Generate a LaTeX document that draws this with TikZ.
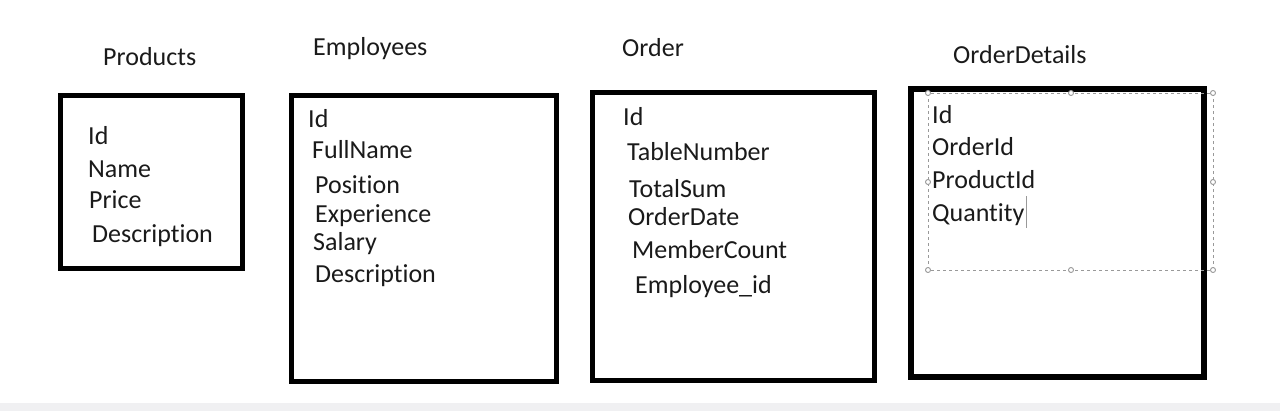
\documentclass[tikz,border=0pt]{standalone}
\usepackage{fontspec}
\setmainfont{Carlito}[Ligatures={NoCommon,NoContextual}]
\usepackage{tikz}
\usetikzlibrary{positioning}
\definecolor{inkgrey}{HTML}{1A1A1A}
\definecolor{stripgrey}{HTML}{F0F0F2}
\definecolor{handlegrey}{HTML}{999999}

\begin{document}
\begin{tikzpicture}[
    x=1bp, y=-1bp,
    title/.style={
      inner sep=0pt,
      anchor=base west,
      text=inkgrey,
      font=\fontsize{26bp}{31bp}\selectfont
    },
    field/.style={title},
    tablebox/.style={
      draw=black,
      line width=5bp,
      rectangle,
      inner sep=0pt,
      outer sep=0pt,
      anchor=north west
    },
    selbox/.style={
      draw=handlegrey,
      line width=0.9bp,
      dash pattern=on 3bp off 3bp
    },
    handle/.style={
      draw=handlegrey,
      fill=white,
      line width=0.9bp,
      circle,
      inner sep=0pt,
      minimum size=5bp
    }
  ]
  \useasboundingbox (0,0) rectangle (1280,411);
  \fill[stripgrey] (0,403) rectangle (1280,411);

  % tables
  \node[tablebox, minimum width=182bp, minimum height=173bp] (products) at (60.5,95.5) {};
  \node[tablebox, minimum width=265bp, minimum height=286bp] (employees) at (291.5,95.5) {};
  \node[tablebox, minimum width=282bp, minimum height=288bp] (order) at (592.5,92.5) {};
  \node[tablebox, line width=6bp, minimum width=293bp, minimum height=288bp] (details) at (911,89) {};

  % titles
  \node[title] (tproducts) at (103,65) {Products};
  \node[title] (temployees) at (313,55) {Employees};
  \node[title] (torder) at (622,56) {Order};
  \node[title] (tdetails) at (953,63) {OrderDetails};

  % Products
  \node[field] (pid) at (88,144) {Id};
  \node[field] (pname) at (88,177) {Name};
  \node[field] (pprice) at (89,208) {Price};
  \node[field] (pdesc) at (92,242) {Description};

  % Employees
  \node[field] (eid) at (308,127) {Id};
  \node[field] (efull) at (312,158) {FullName};
  \node[field] (epos) at (315,193) {Position};
  \node[field] (eexp) at (315,222) {Experience};
  \node[field] (esal) at (313,250) {Salary};
  \node[field] (edesc) at (315,282) {Description};

  % Order
  \node[field] (oid) at (623,125) {Id};
  \node[field] (otable) at (627,160) {TableNumber};
  \node[field] (osum) at (629,197) {TotalSum};
  \node[field] (odate) at (628,225) {OrderDate};
  \node[field] (ocount) at (632,258) {MemberCount};
  \node[field] (oemp) at (635,293) {Employee\_id};

  % OrderDetails
  \node[field] (did) at (932,123) {Id};
  \node[field] (dorder) at (932,155) {OrderId};
  \node[field] (dprod) at (932,188) {ProductId};
  \node[field] (dqty) at (932,221) {Quantity};

  % text cursor and selection frame
  \coordinate (cur top) at (1026,196);
  \coordinate (cur bot) at (1026,228);
  \draw[handlegrey, line width=1bp] (cur top) -- (cur bot);
  \coordinate (sel nw) at (928,93);
  \coordinate (sel se) at (1213,270);
  \draw[selbox] (sel nw) rectangle (sel se);
  \node[handle] (h1) at (928,93) {};
  \node[handle] (h2) at (1071,93) {};
  \node[handle] (h3) at (1213,93) {};
  \node[handle] (h4) at (928,182) {};
  \node[handle] (h5) at (1213,182) {};
  \node[handle] (h6) at (928,270) {};
  \node[handle] (h7) at (1071,270) {};
  \node[handle] (h8) at (1213,270) {};
\end{tikzpicture}
\end{document}
